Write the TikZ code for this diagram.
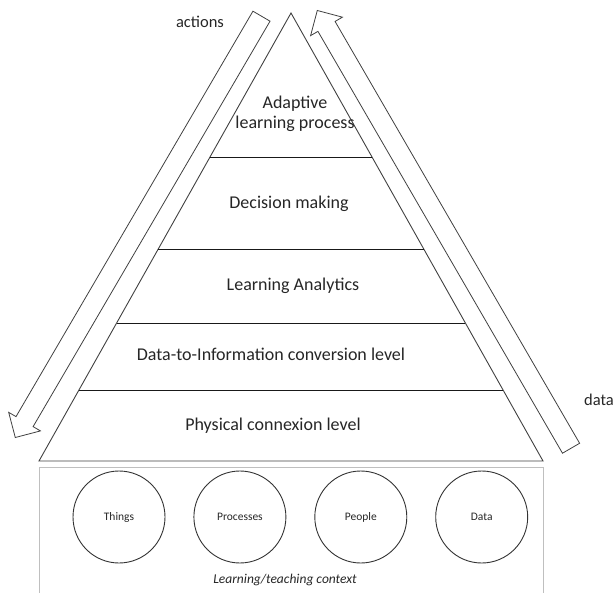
\documentclass[tikz,border=0pt]{standalone}
\usepackage{fontspec}
\setmainfont{Carlito}
\usetikzlibrary{positioning, shapes.arrows, calc}

\begin{document}
\begin{tikzpicture}[
    x=1pt, y=-1pt,
    layer/.style={align=center, font=\fontsize{18}{19.5}\selectfont, text=black!85},
    side/.style={font=\fontsize{16.5}{19}\selectfont, text=black!85},
    entity/.style={draw=black!80, circle, minimum size=92pt, inner sep=0pt, line width=0.9pt, font=\fontsize{11.5}{13}\selectfont, text=black!85},
    bigarrow/.style={draw=black!75, line width=0.8pt, single arrow, single arrow head extend=8.5pt, single arrow tip angle=90, minimum width=36pt, inner xsep=0pt, inner ysep=9.5pt},
    outline/.style={draw=black!75, line width=0.9pt},
    split/.style={draw=black!90, line width=0.9pt},
    contextbox/.style={draw=black!25, line width=1.4pt, rectangle, inner sep=0pt}
]
\useasboundingbox (0,0) rectangle (615,593);

% pyramid
\coordinate (apex) at (291,13);
\coordinate (baseL) at (39,461);
\coordinate (baseR) at (543,461);
\draw[outline] (apex) -- (baseL) -- (baseR) -- cycle;
\foreach \t in {0.3214, 0.5268, 0.6920, 0.8415}
    \draw[split] ($(apex)!\t!(baseL)$) -- ($(apex)!\t!(baseR)$);

\node[layer] (adaptive) at (295,114) {Adaptive\\learning process};
\node[layer] (decision) at (289,204) {Decision making};
\node[layer] (analytics) at (293,286) {Learning Analytics};
\node[layer] (conversion) at (271,354) {Data-to-Information conversion level};
\node[layer] (physical) at (273,426) {Physical connexion level};

% side arrows
\node[bigarrow, minimum height=488pt, rotate=239.7, anchor=tip] (actarrow) at (15,438) {};
\node[bigarrow, minimum height=506pt, rotate=120.1, anchor=tip] (dataarrow) at (317,10) {};
\node[side] (actions) at (200,22) {actions};
\node[side] (datalabel) at (599,400) {data};

% context
\node[contextbox, minimum width=504pt, minimum height=132pt, anchor=north west] (context) at (39,467) {};
\node[entity] (things) at (119,517) {Things};
\node[entity, right=28pt of things] (processes) {Processes};
\node[entity, right=28pt of processes] (people) {People};
\node[entity, right=28pt of people] (data) {Data};
\node[font=\itshape\fontsize{13.5}{16}\selectfont, text=black!85] (ctxlabel) at (285,580) {Learning/teaching context};
\end{tikzpicture}
\end{document}
